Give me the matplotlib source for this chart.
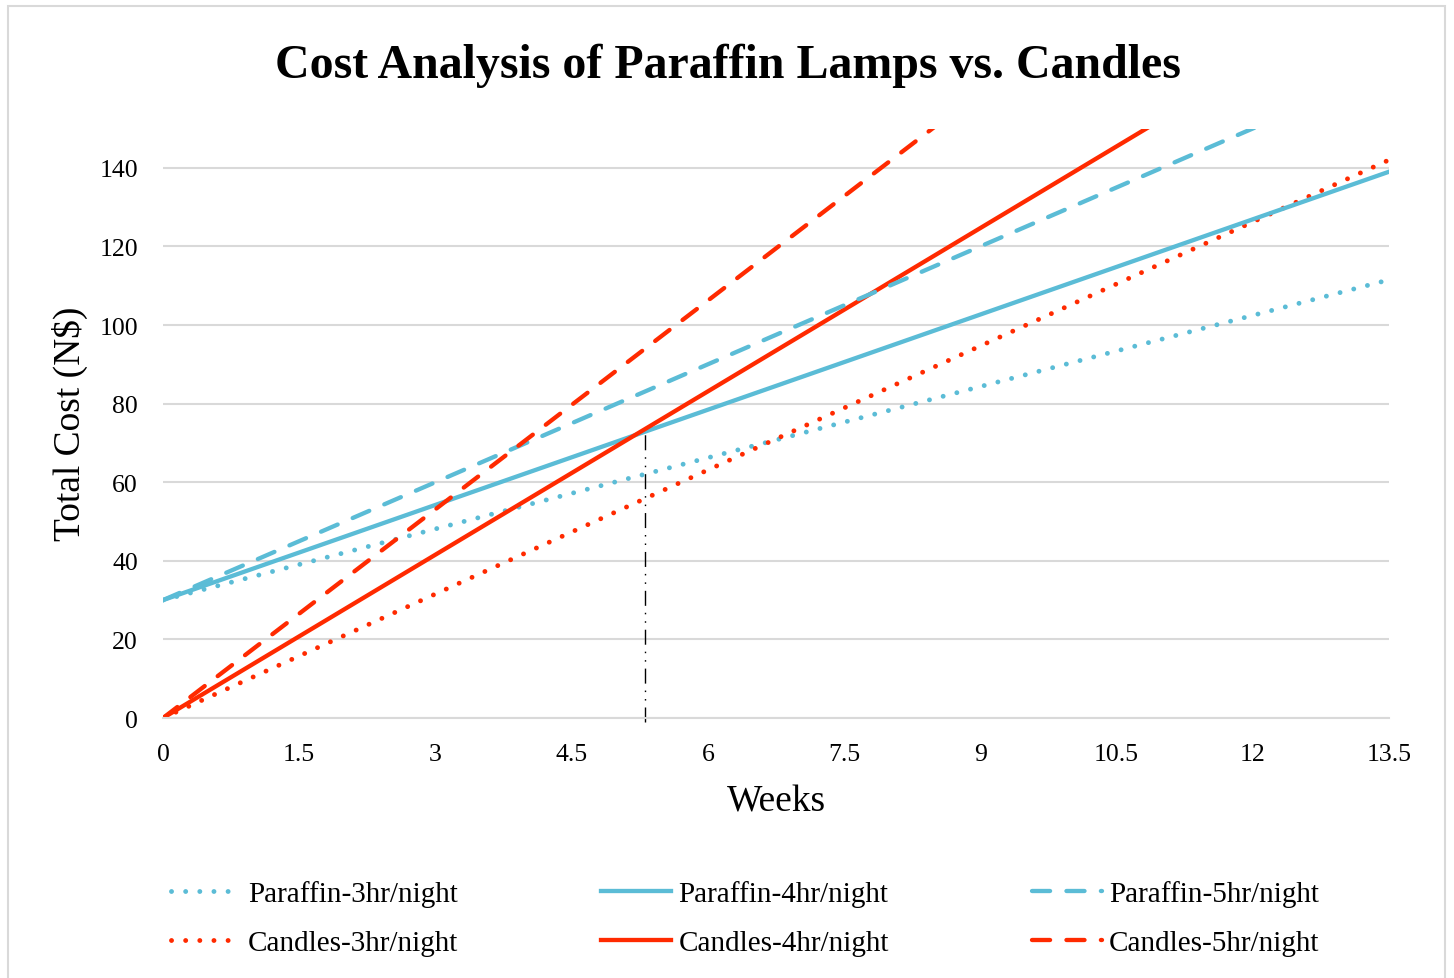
import matplotlib.pyplot as plt
from matplotlib.patches import Rectangle

plt.rcParams['font.family'] = ['Liberation Serif', 'DejaVu Serif']

weeks = [0, 13.5]
paraffin_3hr = [30, 111.5]
paraffin_4hr = [30, 139]
paraffin_5hr = [30, 165]
candles_3hr = [0, 142]
candles_4hr = [0, 187]
candles_5hr = [0, 239]

# break-even of the 4hr/night options
breakeven_week = 5.31
breakeven_cost = 73

x_ticks = [0, 1.5, 3, 4.5, 6, 7.5, 9, 10.5, 12, 13.5]
x_tick_labels = ['0', '1.5', '3', '4.5', '6', '7.5', '9', '10.5', '12', '13.5']
y_ticks = [0, 20, 40, 60, 80, 100, 120, 140]

blue = '#5bbcd6'
red = '#ff2a00'
grid_col = '#d9d9d9'

dotted = (0, (0.01, 2.9))
dashed = (0, (4.2, 3.8))

fig = plt.figure(figsize=(14.54, 9.79), dpi=100)
ax = fig.add_axes([163 / 1454, 1 - 719 / 979, (1389 - 163) / 1454, (719 - 129.5) / 979])

lw = 3.1
ax.plot(weeks, paraffin_3hr, color=blue, lw=lw + 0.4, ls=dotted, dash_capstyle='round', label='Paraffin-3hr/night')
ax.plot(weeks, candles_3hr, color=red, lw=lw + 0.4, ls=dotted, dash_capstyle='round', label='Candles-3hr/night')
ax.plot(weeks, paraffin_4hr, color=blue, lw=lw, label='Paraffin-4hr/night')
ax.plot(weeks, candles_4hr, color=red, lw=lw, label='Candles-4hr/night')
ax.plot(weeks, paraffin_5hr, color=blue, lw=lw, ls=dashed, dash_capstyle='round', label='Paraffin-5hr/night')
ax.plot(weeks, candles_5hr, color=red, lw=lw, ls=dashed, dash_capstyle='round', label='Candles-5hr/night')

ax.plot([breakeven_week, breakeven_week], [-1, breakeven_cost], color='black', lw=1,
        ls=(0, (10.8, 5, 1.1, 5, 1.1, 5)), clip_on=False, zorder=1)

ax.set_xlim(0, 13.5)
ax.set_ylim(0, 150)
ax.set_xticks(x_ticks)
ax.set_xticklabels(x_tick_labels)
ax.set_yticks(y_ticks)
ax.tick_params(length=0, labelsize=18.5, pad=18)
ax.tick_params(axis='y', pad=18)
ax.grid(axis='y', color=grid_col, lw=1.5, zorder=0)
ax.set_axisbelow(True)
for s in ['top', 'right', 'left']:
    ax.spines[s].set_visible(False)
ax.spines['bottom'].set_color(grid_col)
ax.spines['bottom'].set_linewidth(1.5)

ax.set_xlabel('Weeks', fontsize=27, labelpad=14)
ax.set_ylabel('Total Cost (N$)', fontsize=27, labelpad=8)

fig.text(728 / 1454, 1 - 66 / 979, 'Cost Analysis of Paraffin Lamps vs. Candles',
         fontsize=34.5, fontweight='bold', ha='center', va='center')

fig.legend(loc='center', bbox_to_anchor=(745 / 1454, 1 - 919 / 979), ncol=3,
           frameon=False, fontsize=21, handlelength=2.4, handletextpad=0.25,
           columnspacing=4.9, labelspacing=0.76)

fig.patches.append(Rectangle((8 / 1454, -0.05), (1445 - 8) / 1454, 1.05 - 7 / 979,
                             transform=fig.transFigure, fill=False, ec=grid_col, lw=1.5))

fig.savefig('out.png', dpi=100)
